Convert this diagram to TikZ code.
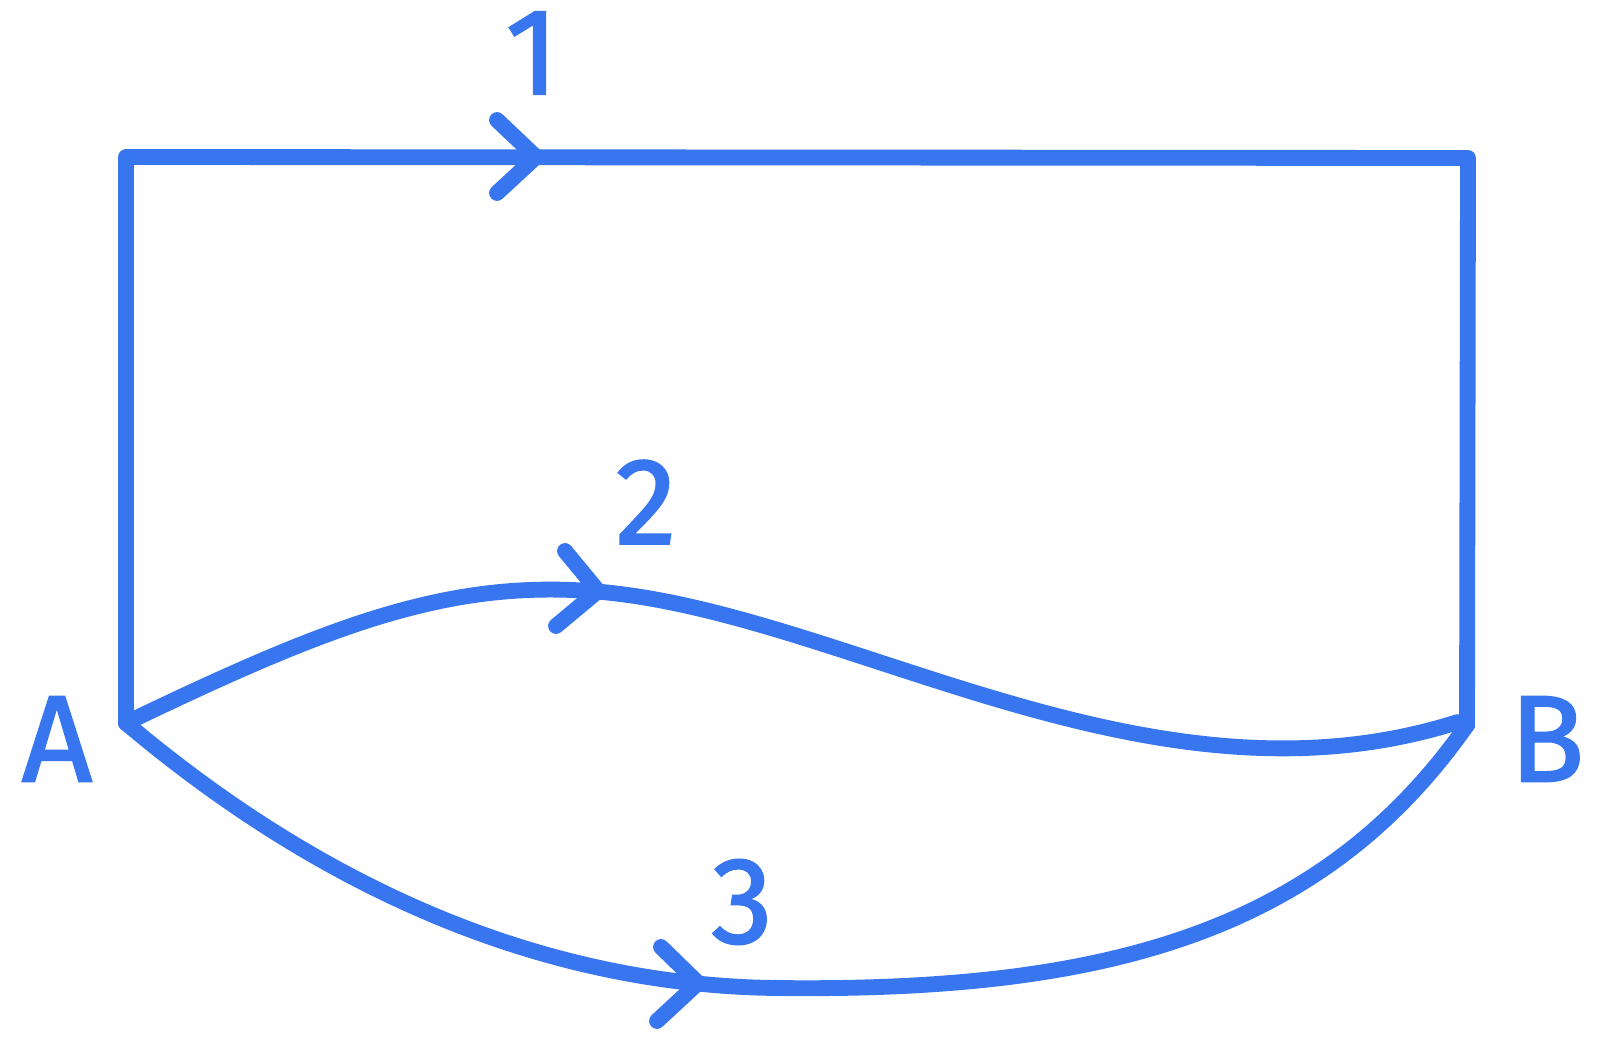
\documentclass[tikz,border=0pt]{standalone}
\usepackage{fontspec}
\setmainfont{Fira Sans}
\newfontfamily\lblfont{Fira Sans}[FakeBold=1.6]
\definecolor{pathblue}{RGB}{56,118,240}
\tikzset{
  pathline/.style={draw=pathblue, line width=4.5pt, line join=round, line cap=round},
  chevron/.style={pathline},
  lbl/.style={text=pathblue, font=\lblfont\fontsize{35}{40}\selectfont, inner sep=0pt}
}
\begin{document}
\begin{tikzpicture}[x=0.01cm,y=-0.01cm]
\useasboundingbox[fill=white] (0,0) rectangle (1600,1049);
% end points and corners
\coordinate (A) at (126,723);
\coordinate (B) at (1467,725);
\coordinate (TL) at (126,157);
\coordinate (TR) at (1468,158);
\coordinate (P2) at (602,592);
\coordinate (P3) at (776,988);
% path 1
\draw[pathline] (A) -- (TL) -- (TR) -- (B);
% path 2
\draw[pathline] (A) .. controls (330,625) and (450,578) .. (P2)
  .. controls (850,615) and (1150,820) .. (1458,722) -- (B);
% path 3
\draw[pathline] (A) .. controls (300,870) and (520,985) .. (P3)
  .. controls (1100,992) and (1320,935) .. (B);
% arrowheads
\draw[chevron] (497,120) -- (536,157) -- (497,193);
\draw[chevron] (565,551) -- (598,591) -- (556,626);
\draw[chevron] (661,947) -- (698,983) -- (657,1021);
% labels
\node[lbl] (l1) at (532,53) {1};
\node[lbl] (l2) at (646,502) {2};
\node[lbl] (l3) at (742,902) {3};
\node[lbl] (lA) at (57,739) {A};
\node[lbl] (lB) at (1547,739) {B};
\end{tikzpicture}
\end{document}
